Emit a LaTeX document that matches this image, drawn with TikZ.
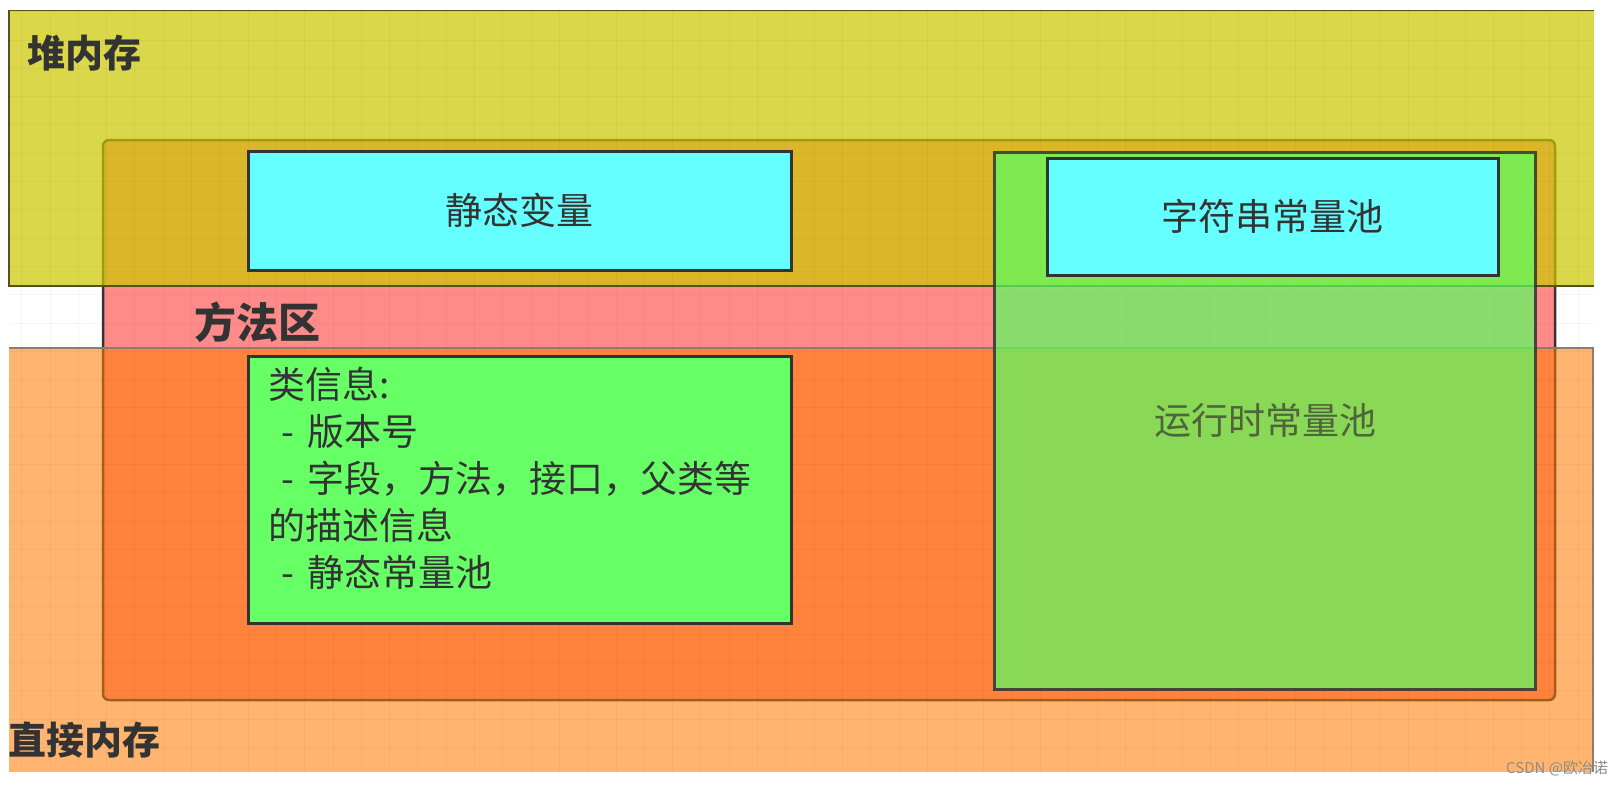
\documentclass[tikz,border=0pt]{standalone}
\usepackage{fontspec}
\setmainfont{Noto Sans CJK SC}
\definecolor{heapc}{RGB}{204,201,0}
\definecolor{methodc}{RGB}{255,138,138}
\definecolor{directc}{RGB}{255,125,4}
\definecolor{rtc}{RGB}{89,255,98}
\definecolor{cyanc}{RGB}{102,255,255}
\definecolor{greenc}{RGB}{102,255,102}
\definecolor{txt}{RGB}{51,51,51}
\definecolor{edge}{RGB}{51,51,51}
\definecolor{heapedge}{RGB}{85,82,30}
\definecolor{directedge}{RGB}{140,125,110}
\definecolor{rttxt}{RGB}{80,100,60}
\definecolor{wmc}{RGB}{140,140,140}
\tikzset{
  area/.style={anchor=north west, inner sep=0pt, outer sep=0pt},
  innerbox/.style={area, draw=edge, line width=3pt},
  gridline/.style={black, opacity=0.035, line width=1pt},
  biglab/.style={inner sep=0pt, text=txt, font=\bfseries\fontsize{38}{38}\selectfont},
  boxlab/.style={inner sep=0pt, text=txt, font=\fontsize{37}{37}\selectfont},
}
\begin{document}
\begin{tikzpicture}[x=1pt,y=-1pt]
\useasboundingbox (0,0) rectangle (1622,785);
\fill[white] (0,0) rectangle (1622,785);

% method area (under the translucent heap and direct memory)
\node[area, fill=methodc, draw=edge, line width=2.5pt, rounded corners=6pt,
      minimum width=1452pt, minimum height=560pt] (method) at (103,140) {};

% heap memory
\node[area, fill=heapc, fill opacity=0.71, minimum width=1585pt, minimum height=275.5pt] (heap) at (9,10.5) {};
\draw[heapedge, line width=1.5pt] (heap.north east) -- (heap.north west) -- (heap.south west) -- (heap.south east);

% direct memory
\node[area, fill=directc, fill opacity=0.57, minimum width=1584pt, minimum height=424pt] (direct) at (9,348) {};
\draw[directedge, line width=2pt] (direct.north west) -- (direct.north east) -- (direct.south east);

% grid
\begin{scope}
\clip (9,10) rectangle (1594,772);
\foreach \i in {0,...,56} \draw[gridline] (21.7+28.3*\i,10) -- ++(0,762);
\foreach \j in {0,...,27} \draw[gridline] (9,11.7+28.3*\j) -- ++(1585,0);
\end{scope}

% runtime constant pool
\node[area, fill=rtc, fill opacity=0.7, draw=edge, draw opacity=0.85, line width=3pt,
      minimum width=541pt, minimum height=537pt] (runtime) at (994,152) {};

% inner boxes
\node[innerbox, fill=cyanc, minimum width=543pt, minimum height=119pt] (static) at (248,151) {};
\node[innerbox, fill=greenc, minimum width=543pt, minimum height=267pt] (classinfo) at (248,356) {};
\node[innerbox, fill=cyanc, minimum width=451pt, minimum height=117pt] (strpool) at (1047,158) {};

% labels
\node[biglab, anchor=west] (heaplab) at (27,53.5) {堆内存};
\node[biglab, anchor=west, font=\bfseries\fontsize{42}{42}\selectfont] (methodlab) at (194,322) {方法区};
\node[biglab, anchor=west] (directlab) at (8,740.5) {直接内存};

\node[boxlab] (staticlab) at (static.center) {静态变量};
\node[boxlab] (strlab) at (strpool.center) {字符串常量池};
\node[boxlab, text=rttxt] (rtlab) at (1265,420) {运行时常量池};

\node[anchor=north west, inner sep=0pt, align=left, text=txt,
      font=\fontsize{37}{47}\selectfont] (classtxt) at (268,367)
  {类信息:\\
   \hspace*{13pt}-\hspace{13pt}版本号\\
   \hspace*{13pt}-\hspace{13pt}字段，方法，接口，父类等\\
   的描述信息\\
   \hspace*{13pt}-\hspace{13pt}静态常量池};

\node[anchor=west, inner sep=0pt, text=wmc, font=\fontsize{15}{15}\selectfont] (wm) at (1506,768.5) {CSDN @欧冶诺};
\end{tikzpicture}
\end{document}
